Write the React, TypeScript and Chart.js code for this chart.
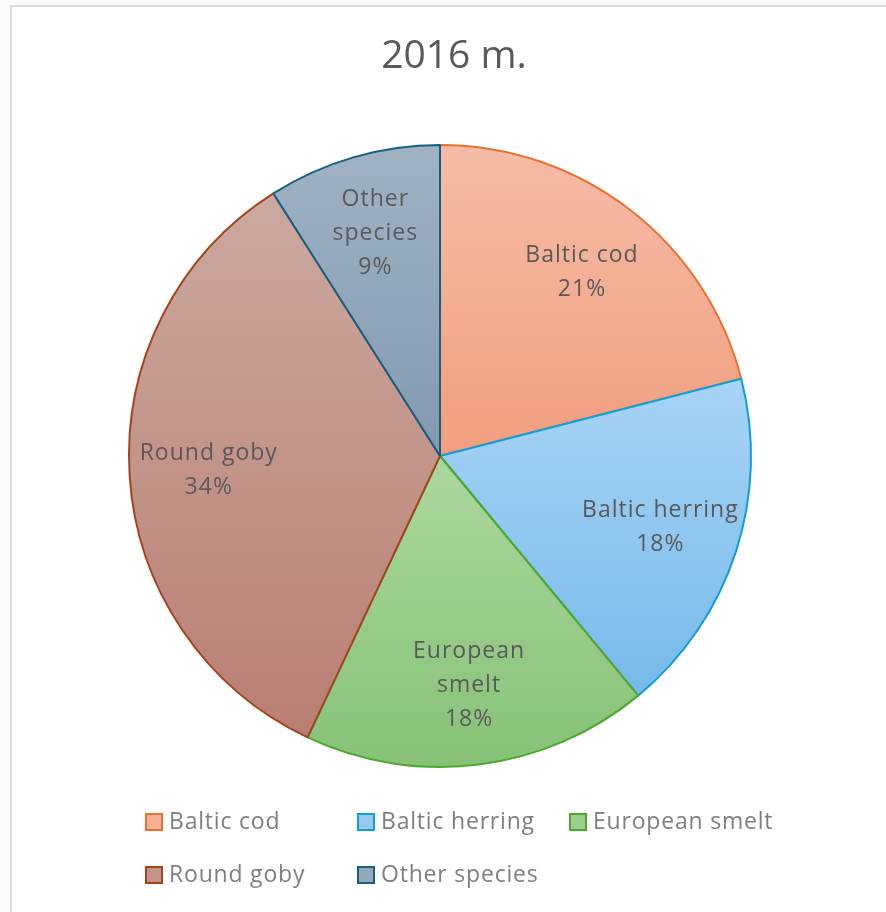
import React, { useEffect, useRef } from "react";
import { Chart, registerables } from "chart.js";

Chart.register(...registerables);

const titleText = "2016 m.";
const categories = ["Baltic cod", "Baltic herring", "European smelt", "Round goby", "Other species"];
const shares = [21, 18, 18, 34, 9];
const labelLines = [["Baltic cod"], ["Baltic herring"], ["European", "smelt"], ["Round goby"], ["Other", "species"]];

const fillTop = ["#F6BCA7", "#A8D4F5", "#ABD79D", "#CBA9A0", "#A0B3C4"];
const fillBottom = ["#F19E7E", "#76B9EA", "#86C277", "#B97E72", "#8299AF"];
const borderColors = ["#E97132", "#0F9ED5", "#4EA72E", "#A5441A", "#156082"];
const legendFill = ["#F4AF94", "#95C9F0", "#9CCE8D", "#C39489", "#92A8BB"];

const FONT_LABEL = '23px "Open Sans"';
const FONT_LEGEND = '23px "Open Sans"';
const FONT_TITLE = '39px "Open Sans"';

function sliceYRange(i: number, cy: number, r: number) {
  const total = shares.reduce((a, b) => a + b, 0);
  let acc = 0;
  for (let k = 0; k < i; k++) acc += shares[k];
  const a0 = -Math.PI / 2 + (acc / total) * Math.PI * 2;
  const a1 = a0 + (shares[i] / total) * Math.PI * 2;
  const ys = [cy, cy + Math.sin(a0) * r, cy + Math.sin(a1) * r];
  const check = [-Math.PI / 2, Math.PI / 2, (3 * Math.PI) / 2];
  for (const c of check) {
    if (c >= a0 && c <= a1) ys.push(cy + Math.sin(c) * r);
  }
  return [Math.min(...ys), Math.max(...ys)];
}

const overlayPlugin = {
  id: "overlay",
  afterDatasetsDraw(chart: any) {
    const ctx = chart.ctx;
    const meta = chart.getDatasetMeta(0);
    ctx.save();
    ctx.fillStyle = "#595959";
    ctx.font = FONT_LABEL;
    (ctx as any).letterSpacing = "1px";
    ctx.textAlign = "center";
    ctx.textBaseline = "middle";
    meta.data.forEach((arc: any, i: number) => {
      const p = arc.getProps(["x", "y", "startAngle", "endAngle", "outerRadius"], true);
      const mid = (p.startAngle + p.endAngle) / 2;
      const rr = p.outerRadius * 0.745;
      const cx = p.x + Math.cos(mid) * rr;
      const cy = p.y + Math.sin(mid) * rr;
      const lines = [...labelLines[i], `${shares[i]}%`];
      const lh = 34;
      const y0 = cy - ((lines.length - 1) * lh) / 2;
      lines.forEach((t, j) => ctx.fillText(t, cx, y0 + j * lh));
    });
    ctx.restore();
  },
  afterDraw(chart: any) {
    const ctx = chart.ctx;
    ctx.save();
    // title
    ctx.fillStyle = "#595959";
    ctx.font = FONT_TITLE;
    ctx.textAlign = "center";
    ctx.textBaseline = "middle";
    ctx.fillText(titleText, 454, 57);
    // legend
    ctx.font = FONT_LEGEND;
    (ctx as any).letterSpacing = "0.8px";
    ctx.textAlign = "left";
    ctx.textBaseline = "middle";
    categories.forEach((name, i) => {
      const row = Math.floor(i / 3);
      const col = i % 3;
      const x = 146 + col * 212;
      const y = 822 + row * 53;
      ctx.fillStyle = legendFill[i];
      ctx.fillRect(x, y - 8, 16, 16);
      ctx.strokeStyle = borderColors[i];
      ctx.lineWidth = 2;
      ctx.strokeRect(x, y - 8, 16, 16);
      ctx.fillStyle = "#7F7F7F";
      ctx.fillText(name, x + 23, y);
    });
    ctx.restore();
  },
};

export default function App() {
  const ref = useRef<HTMLCanvasElement>(null);
  useEffect(() => {
    if (!ref.current) return;
    const chart = new Chart(ref.current, {
      type: "pie",
      data: {
        labels: categories,
        datasets: [
          {
            data: shares,
            backgroundColor: (c: any) => {
              const ch = c.chart;
              const area = ch.chartArea;
              if (!area || c.dataIndex === undefined) return fillTop[c.dataIndex ?? 0];
              const cy = (area.top + area.bottom) / 2;
              const r = Math.min(area.right - area.left, area.bottom - area.top) / 2;
              const [y0, y1] = sliceYRange(c.dataIndex, cy, r);
              const g = ch.ctx.createLinearGradient(0, y0, 0, y1);
              g.addColorStop(0, fillTop[c.dataIndex]);
              g.addColorStop(1, fillBottom[c.dataIndex]);
              return g;
            },
            borderColor: borderColors,
            borderWidth: 2,
          },
        ],
      },
      options: {
        responsive: false,
        animation: false,
        layout: { padding: { left: 128, right: 134, top: 144, bottom: 144 } },
        plugins: {
          legend: { display: false },
          title: { display: false },
          tooltip: { enabled: false },
        },
      },
      plugins: [overlayPlugin],
    });
    return () => chart.destroy();
  }, []);
  return (
    <div style={{ position: "absolute", left: 0, top: 0, width: 886, height: 912, background: "#fbfbfb", overflow: "hidden" }}>
      <div
        style={{
          position: "absolute",
          left: 10,
          top: 5,
          width: 900,
          height: 940,
          borderLeft: "2px solid #d9d9d9",
          borderTop: "2px solid #d9d9d9",
          background: "#ffffff",
        }}
      />
      <canvas ref={ref} width={886} height={912} style={{ position: "absolute", left: 0, top: 0, width: 886, height: 912 }} />
    </div>
  );
}
